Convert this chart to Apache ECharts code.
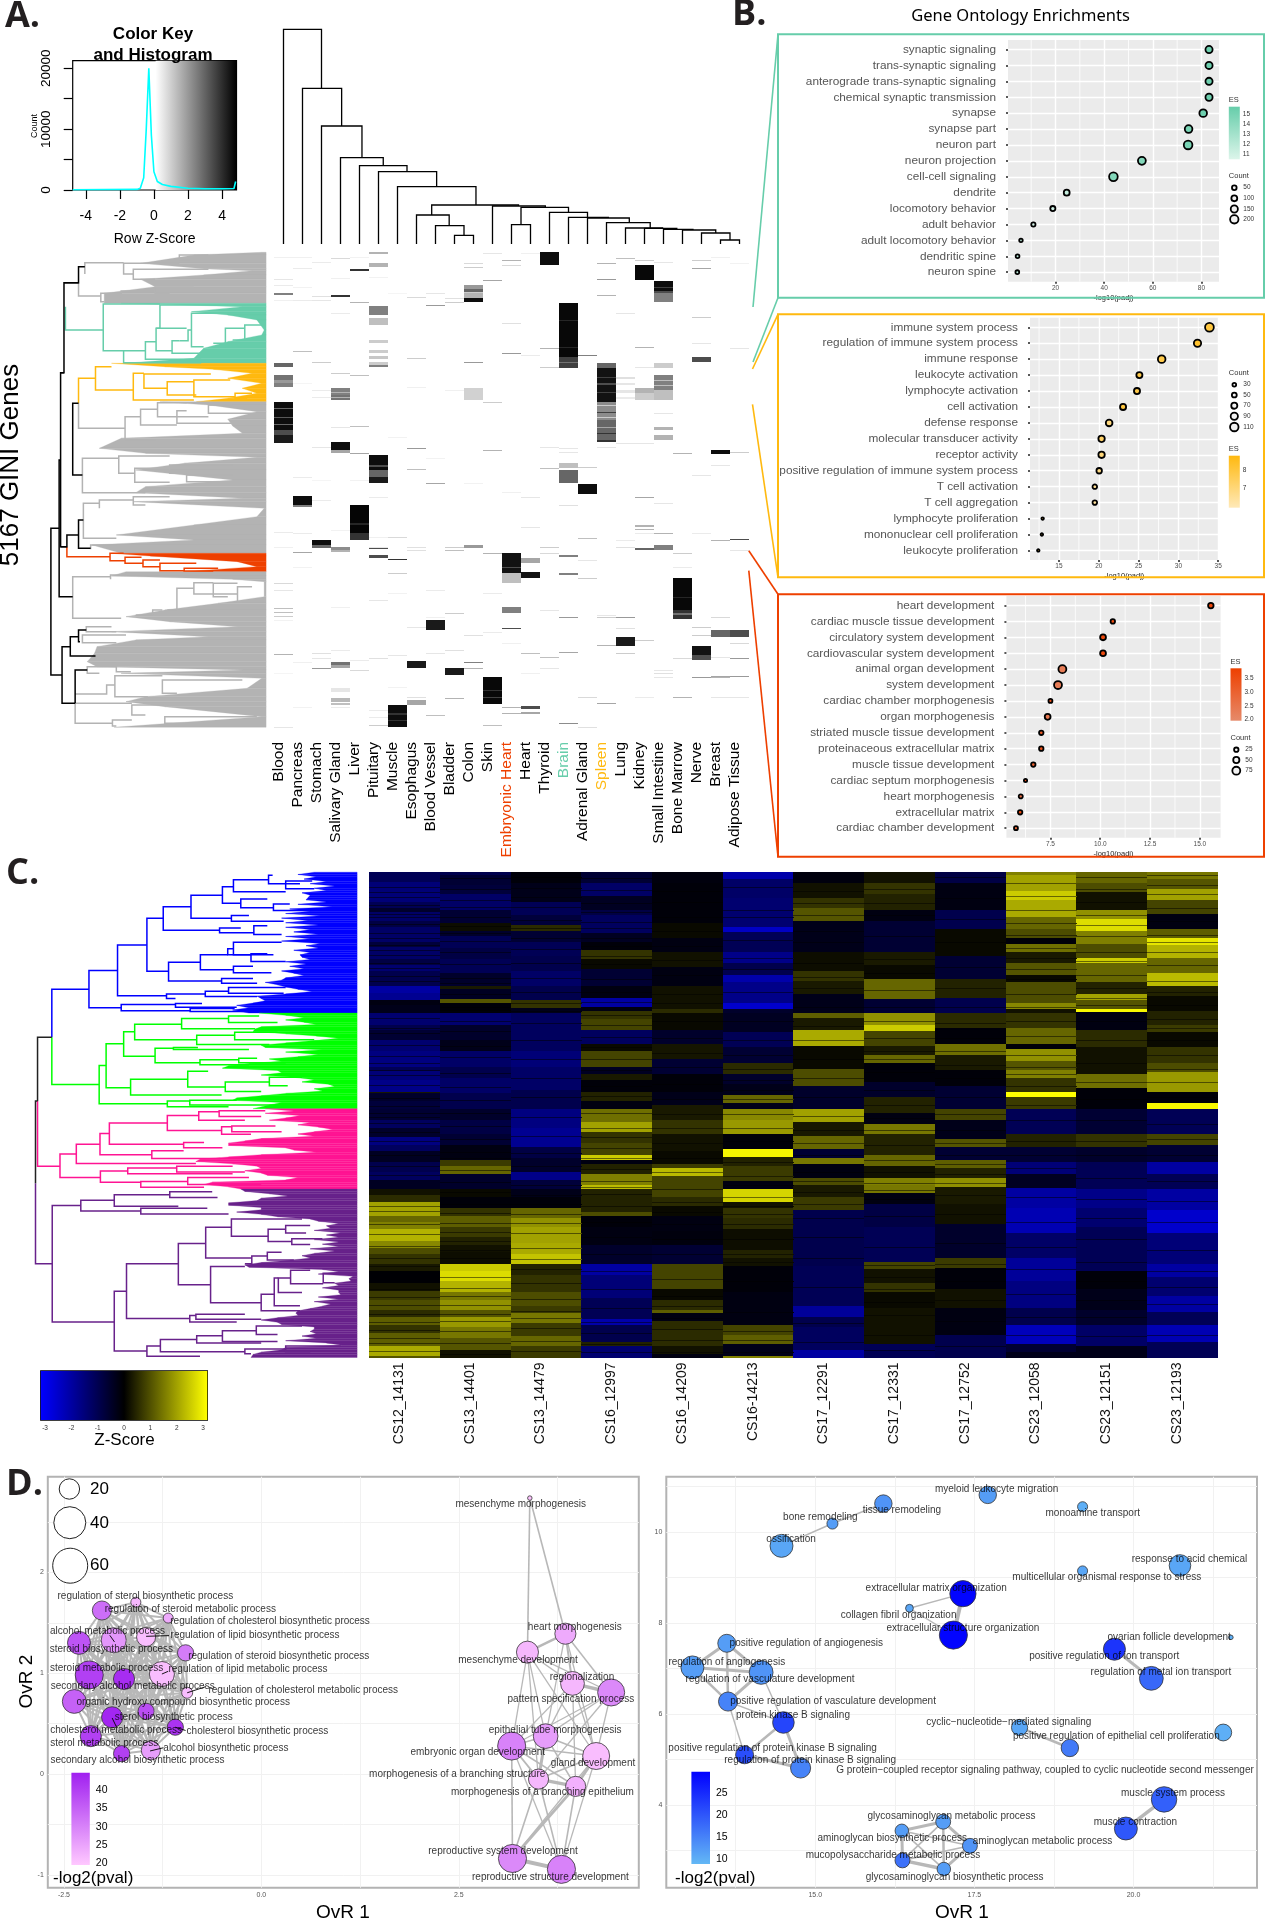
<!DOCTYPE html>
<html>
<head>
<meta charset="utf-8">
<title>GINI genes, GO enrichments, embryonic stages</title>
<script src="https://cdn.jsdelivr.net/npm/echarts@6/dist/echarts.min.js"></script>
<style>
  html, body { margin: 0; background: #fff; }
  #main { width: 1265px; height: 1920px; }
</style>
</head>
<body>
<div id="main"></div>
<script>
// ---------- panel A: histogram ----------
const histX = [-4.77, -1, -0.8, -0.6, -0.45, -0.3, -0.25, -0.15, 0, 0.2, 0.5, 1, 2, 3, 4, 4.7, 4.8];
const histY = [50, 100, 300, 2000, 10000, 20000, 20000, 9000, 3000, 1400, 900, 600, 300, 200, 200, 250, 1400];

// ---------- panel A: heat map ----------
const tissues = ['Blood', 'Pancreas', 'Stomach', 'Salivary Gland', 'Liver', 'Pituitary', 'Muscle', 'Esophagus', 'Blood Vessel', 'Bladder', 'Colon', 'Skin', 'Embryonic Heart', 'Heart', 'Thyroid', 'Brain', 'Adrenal Gland', 'Spleen', 'Lung', 'Kidney', 'Small Intestine', 'Bone Marrow', 'Nerve', 'Breast', 'Adipose Tissue'];
// [tissue, row from, row to, darkness]
const tissueBands = [
  [0,1205,1290,.95],[0,1290,1305,.7],[0,1305,1328,.9],[0,1088,1100,.6],[0,1125,1140,.55],[0,1140,1150,.4],[0,1150,1160,.5],[0,880,885,.5],
  [1,1487,1515,.95],[1,1515,1522,.5],
  [2,1620,1635,.95],[2,1635,1645,.6],
  [3,1327,1350,.95],[3,1350,1360,.35],[3,1165,1185,.5],[3,1185,1200,.55],[3,1640,1650,.45],[3,1650,1657,.3],[3,885,890,.8],[3,1985,1995,.55],[3,1995,2005,.35],[3,2065,2075,.1],[3,2095,2105,.28],[3,2108,2115,.25],
  [4,1515,1600,.98],[4,1600,1620,.8],[4,806,812,.8],
  [5,1365,1410,.95],[5,1410,1430,.6],[5,1430,1450,.9],[5,918,945,.5],[5,955,975,.25],[5,1020,1028,.2],[5,1050,1060,.2],[5,1068,1078,.22],[5,1085,1095,.2],[5,1095,1102,.5],[5,757,763,.3],[5,790,800,.3],[5,1643,1647,.7],[5,1665,1675,.7],
  [6,2115,2180,.95],[6,1678,1681,.8],
  [7,1983,2005,.9],[7,2100,2115,.35],
  [8,1860,1890,.9],
  [9,2003,2025,.9],
  [10,855,868,.4],[10,868,878,.6],[10,880,895,.3],[10,895,907,.95],[10,1165,1200,.18],[10,1635,1645,.4],
  [11,2030,2112,.97],
  [12,1658,1720,.93],[12,1720,1750,.25],[12,1820,1838,.5],[12,1885,1888,.7],
  [13,1715,1735,.93],[13,1675,1690,.35],[13,2118,2128,.7],[13,2135,2142,.35],
  [14,757,795,.95],
  [15,908,1070,.97],[15,1070,1105,.75],[15,1410,1450,.6],[15,1390,1405,.25],[15,1665,1672,.5],[15,1720,1725,.5],
  [16,1452,1483,.95],
  [17,1090,1105,.6],[17,1105,1205,.93],[17,1205,1260,.45],[17,1260,1320,.6],[17,1320,1326,.8],
  [18,1910,1937,.9],[18,1130,1138,.12],[18,1148,1156,.1],[18,1170,1180,.1],[18,1190,1198,.08],
  [19,795,840,.97],[19,1165,1180,.3],[19,1180,1200,.2],[19,1575,1582,.3],[19,1586,1590,.3],[19,1645,1650,.6],
  [20,843,880,.95],[20,880,905,.5],[20,1125,1170,.5],[20,1170,1200,.25],[20,1090,1105,.2],[20,1280,1290,.3],[20,1305,1320,.3],[20,1635,1650,.5],
  [21,1735,1830,.97],[21,1830,1858,.8],
  [22,1937,1965,.93],[22,1965,1980,.7],[22,1070,1085,.7],[22,950,955,.2],
  [23,1350,1362,.95],[23,1890,1910,.6],[23,2028,2032,.35],
  [24,1890,1910,.7],[24,1617,1620,.7],[24,2028,2032,.4]
];
// lighter lines inside the dark blocks
const tissueInner = [
  [0,1225,1228,.6],[0,1250,1253,.65],[0,1272,1276,.6],[4,1570,1574,.85],[5,1395,1400,.7],[6,2140,2145,.8],[6,2160,2163,.8],[11,2070,2074,.8],[11,2090,2095,.75],
  [12,1700,1705,.7],[15,960,963,.85],[15,1040,1044,.85],[15,1085,1088,.55],[17,1130,1133,.75],[17,1150,1154,.7],[17,1175,1178,.75],[17,1215,1218,.2],[17,1235,1240,.75],[17,1250,1253,.2],[17,1280,1284,.35],[17,1300,1303,.8],
  [20,860,864,.75],[20,872,878,.7],[20,1140,1144,.25],[20,1155,1158,.25],[21,1790,1793,.85],[21,1840,1844,.55],[10,875,880,.2],[3,1175,1178,.3],[3,1190,1194,.3]
];
// thin pale lines, [tissue, row, darkness]
const tissueFaint = [
  [0,770,.06],[0,837,.1],[0,855,.08],[0,900,.06],[0,1825,.25],[0,1836,.25],[0,1847,.2],[0,1962,.3],[0,1595,.08],[0,1750,.15],[0,1770,.1],[0,2180,.1],[0,1640,.06],[0,1860,.05],[0,2020,.04],
  [1,770,.06],[1,805,.08],[1,900,.08],[1,1052,.25],[1,1655,.35],[1,1430,.08],[1,2120,.05],[1,1600,.08],[1,1700,.05],[1,1985,.06],[1,862,.05],[1,1150,.04],
  [2,785,.08],[2,888,.12],[2,900,.1],[2,1085,.2],[2,1170,.08],[2,1190,.08],[2,1340,.1],[2,2005,.4],[2,1500,.08],[2,1960,.12],[2,1975,.1],[2,1440,.04],
  [3,775,.15],[3,835,.06],[3,940,.08],[3,1120,.2],[3,1280,.1],[3,1590,.05],[3,1820,.06],[3,1950,.08],[3,2120,.08],
  [4,905,.3],[4,1125,.25],[4,1278,.25],[4,1360,.35],[4,2010,.15],[4,1980,.08],[4,1440,.05],[4,770,.05],
  [5,1490,.08],[5,1640,.1],[5,1800,.1],[5,1610,.06],[5,1975,.12],[5,2175,.2],[5,830,.05],[5,2130,.08],[5,2150,.08],
  [6,1610,.15],[6,1720,.2],[6,1965,.1],[6,1310,.05],[6,1780,.05],[6,2060,.05],[6,880,.04],
  [7,890,.15],[7,1075,.2],[7,1345,.4],[7,1408,.25],[7,1650,.12],[7,1880,.1],[7,2090,.12],[7,1640,.12],[7,1160,.06],
  [8,915,.4],[8,880,.1],[8,1450,.35],[8,1770,.08],[8,2145,.25],[8,1960,.1],[8,1850,.06],[8,1375,.05],
  [9,905,.2],[9,1640,.2],[9,1650,.25],[9,1840,.2],[9,1950,.12],[9,2095,.3],[9,895,.12],[9,1170,.06],
  [10,790,.15],[10,1085,.4],[10,1985,.5],[10,2005,.3],[10,1905,.12],[10,800,.2],[10,1450,.05],
  [11,760,.1],[11,840,.35],[11,1205,.2],[11,1350,.3],[11,1660,.3],[11,1780,.08],[11,2175,.25],[11,1895,.08],
  [12,780,.3],[12,795,.15],[12,970,.12],[12,1060,.4],[12,1475,.06],[12,2120,.3],[12,2140,.3],[12,1930,.06],
  [13,760,.06],[13,1065,.08],[13,1490,.1],[13,1580,.1],[13,1960,.25],[13,2020,.06],[13,1680,.15],
  [14,1045,.3],[14,1100,.2],[14,1405,.25],[14,1640,.2],[14,1830,.1],[14,1970,.25],[14,1340,.1],[14,1660,.15],[14,2005,.1],
  [15,1720,.4],[15,1850,.4],[15,1955,.35],[15,2170,.45],[15,1515,.12],[15,1345,.1],[15,1355,.1],
  [16,1065,.5],[16,1400,.2],[16,1615,.25],[16,1735,.2],[16,2092,.15],[16,2180,.12],[16,1680,.1],
  [17,790,.3],[17,885,.3],[17,838,.4],[17,1850,.2],[17,1935,.3],[17,2110,.35],[17,1845,.1],[17,1340,.1],
  [18,775,.25],[18,940,.1],[18,1330,.1],[18,1850,.4],[18,1885,.12],[18,1960,.2],[18,1640,.12],[18,1620,.08],
  [19,1040,.3],[19,1100,.1],[19,1490,.35],[19,1920,.2],[19,1330,.1],[19,780,.2],[19,1600,.08],[19,2090,.08],
  [20,1240,.1],[20,1600,.3],[20,1510,.15],[20,2010,.1],[20,2030,.1],[20,2020,.12],[20,1510,.1],[20,785,.1],
  [21,1660,.2],[21,1975,.15],[21,2092,.3],[21,1360,.3],[21,1700,.08],
  [22,780,.2],[22,805,.35],[22,950,.2],[22,1030,.1],[22,1425,.1],[22,1880,.2],[22,1905,.2],[22,2030,.4],[22,1600,.08],
  [23,1395,.1],[23,1620,.3],[23,1850,.15],[23,1970,.1],[23,2090,.1],[23,2030,.3],[23,770,.06],
  [24,1045,.1],[24,1355,.2],[24,1650,.1],[24,1975,.4],[24,2090,.1],[24,1930,.15],[24,790,.05]
];

// column tree above the heat map: [left leaf, right leaf, left drop, right drop, height]
const columnTree = [
  [0,2,0,467,644],[1,3.06,0,354,467],[2,4.13,0,259,354],[3,5.25,0,235,259],[4,6.5,0,217,235],[5,8.06,0,172,217],[6,10.13,0,117,172],
  [7.8,12.37,87,114,117],[7,8.72,0,55,87],[8,9.5,0,26,55],[9,10,0,0,26],[11,13.78,0,110,114],[12.5,15,58,95,110],[12,13,0,0,58],
  [14,16,0,80,95],[15,17.1,0,78,80],[16,18.2,0,64,78],[17,19.3,0,48,64],[18,19.95,0,47,48],[19,20.7,0,44,47],[20,21.55,0,42,44],
  [21,22.75,0,33,42],[22,23.5,0,12,33],[23,24,0,0,12]
];

// row tree of panel A: [node, upper row, lower row, upper child, lower child]
const rowTreeBlack = [
  [105,1585,2025,122,128],[122,1380,1790,125,150],[125,1118,1640,132,138],[132,848,1118,162,125],[138,1605,1640,162,125],[162,800,848,175,132],
  [150,1210,1425,162,170],[162,1560,1645,172,187],[128,1940,2110,145,155],[145,1910,1968,162,197],[162,1890,1925,178,165],[155,2010,2110,180,155]
];
const rowTreeGrey = [
  [162,848,888,162,208],[175,788,822,255,175],[255,790,822,370,275],[275,808,838,430,320],[370,765,780,430,390],[208,880,905,250,215],[250,873,890,320,290],[320,862,880,400,350],
  [162,1210,1285,162,258],[258,1250,1320,290,320],[290,1228,1275,325,365],[325,1208,1250,385,430],[365,1232,1270,385,490],[430,1215,1240,480,530],
  [170,1375,1478,245,300],[245,1368,1420,350,278],[278,1405,1447,400,350],[350,1395,1420,480,385],[385,1425,1445,480,500],
  [172,1510,1615,205,240],[205,1500,1525,275,205],[275,1490,1515,350,300],[187,1635,1648,240,187],
  [150,1730,1855,228,250],[228,1725,1738,262,228],[365,1765,1830,400,345],[400,1748,1782,440,490],[440,1750,1790,490,470],[490,1760,1805,520,500],[315,1830,1845,335,280],
  [178,1880,1895,230,240],[170,1905,1928,260,240],[195,1967,1978,260,215],[180,2000,2020,240,205],[240,1990,2015,280,270],
  [220,2055,2082,237,155],[237,2027,2090,335,305],[335,2040,2080,500,365],[155,2110,2170,272,232],[232,2160,2178,272,240],[272,2115,2145,340,300],[340,2150,2170,530,420]
];
const rowTreeTeal = [
  [135,920,990,135,213],[213,912,1052,330,255],[255,1052,1088,300,415],[300,1025,1078,322,415],[322,985,1052,385,355],[330,915,985,470,322],
  [355,1022,1060,370,415],[388,990,1022,395,370],[395,940,1040,470,420],[465,985,1030,505,440],[505,975,1020,545,480]
];
const rowTreeGold = [
  [162,1135,1210,197,162],[197,1100,1170,230,275],[275,1120,1200,297,400],[297,1122,1165,435,345],[345,1145,1185,400,405],[400,1140,1190,475,485],[485,1180,1195,520,510]
];
const rowTreeRed = [
  [138,1640,1670,138,227],[227,1660,1682,255,258],[258,1672,1690,292,295],[295,1680,1700,330,330],[330,1690,1712,405,380],[380,1705,1713,450,440]
];
// leaf-side edge of the filled block, [row, reach]
const rowFillGrey1 = [[757,540],[765,400],[790,290],[806,420],[812,520],[825,420],[838,290],[860,320],[880,215],[910,215]];
const rowFillTeal = [[910,250],[920,500],[935,395],[945,470],[960,530],[990,545],[1005,540],[1025,470],[1045,420],[1075,400],[1090,255]];
const rowFillGold = [[1090,230],[1100,340],[1108,440],[1120,520],[1135,470],[1150,540],[1165,500],[1180,530],[1195,470],[1205,405]];
const rowFillGrey2 = [[1205,330],[1215,430],[1235,530],[1258,470],[1278,480],[1300,500],[1315,250],[1345,205],[1360,300],[1372,530],[1390,380],[1410,280],[1440,480],[1460,300],[1478,280],[1495,500],[1505,275],[1525,545],[1550,530],[1575,400],[1605,240],[1620,400],[1635,190],[1660,250]];
const rowFillRed = [[1660,230],[1668,310],[1685,490],[1700,530],[1715,380]];
const rowFillGrey3 = [[1715,260],[1728,230],[1738,480],[1745,545],[1790,545],[1810,450],[1830,340],[1850,260],[1865,350],[1880,490],[1895,230],[1910,430],[1920,280],[1940,200],[1960,195],[1985,180],[2000,200],[2010,500],[2020,250],[2035,540],[2065,510],[2090,300],[2105,260],[2120,340],[2150,540],[2182,235]];

// ---------- panel B: gene ontology ----------
const goTealTerms = ['synaptic signaling', 'trans-synaptic signaling', 'anterograde trans-synaptic signaling', 'chemical synaptic transmission', 'synapse', 'synapse part', 'neuron part', 'neuron projection', 'cell-cell signaling', 'dendrite', 'locomotory behavior', 'adult behavior', 'adult locomotory behavior', 'dendritic spine', 'neuron spine'];
const goTealX = [83.1, 83.1, 83.1, 83.1, 80.7, 74.7, 74.5, 55.5, 43.8, 24.6, 18.9, 10.9, 5.8, 4.4, 4.3];
const goTealCount = [150, 150, 150, 150, 170, 170, 210, 180, 210, 100, 70, 35, 5, 15, 15];
const goTealES = [15.5, 15.5, 15.5, 15.5, 15.5, 15, 15, 14.5, 14.5, 11.5, 11, 10.8, 12, 12, 12];

const goGoldTerms = ['immune system process', 'regulation of immune system process', 'immune response', 'leukocyte activation', 'lymphocyte activation', 'cell activation', 'defense response', 'molecular transducer activity', 'receptor activity', 'positive regulation of immune system process', 'T cell activation', 'T cell aggregation', 'lymphocyte proliferation', 'mononuclear cell proliferation', 'leukocyte proliferation'];
const goGoldX = [33.9, 32.4, 27.9, 25.1, 24.8, 23.05, 21.3, 20.35, 20.35, 20.05, 19.5, 19.5, 12.95, 12.85, 12.4];
const goGoldCount = [115, 90, 95, 70, 70, 70, 80, 75, 75, 60, 45, 45, 10, 10, 10];
const goGoldES = [8, 8.3, 7.8, 7.8, 7.8, 8, 6.9, 7.3, 7, 6.8, 6.5, 6.4, 8, 8, 8];

const goRedTerms = ['heart development', 'cardiac muscle tissue development', 'circulatory system development', 'cardiovascular system development', 'animal organ development', 'system development', 'cardiac chamber morphogenesis', 'organ morphogenesis', 'striated muscle tissue development', 'proteinaceous extracellular matrix', 'muscle tissue development', 'cardiac septum morphogenesis', 'heart morphogenesis', 'extracellular matrix', 'cardiac chamber development'];
const goRedX = [15.55, 10.63, 10.14, 10.14, 8.1, 7.88, 7.5, 7.36, 7.04, 7.04, 6.64, 6.25, 6.01, 5.98, 5.77];
const goRedCount = [40, 25, 45, 45, 75, 75, 18, 45, 25, 25, 25, 8, 20, 25, 18];
const goRedES = [3.7, 3.5, 3.6, 3.6, 2.3, 2.3, 3.4, 2.4, 3.2, 3.4, 3, 3.5, 2.6, 3.6, 2.8];

// ---------- panel C: stage heat map, runs of [row end, z-score] ----------
const stages = ['CS12_14131', 'CS13_14401', 'CS13_14479', 'CS16_12997', 'CS16_14209', 'CS16-14213', 'CS17_12291', 'CS17_12331', 'CS17_12752', 'CS23_12058', 'CS23_12151', 'CS23_12193'];
const stageRuns = [
  [[58,-1],[110,-1.4],[125,-1],[135,-.5],[160,-1.2],[175,-.8],[215,-1.2],[228,-.7],[260,-1.2],[275,-.8],[290,-1.3],[330,-.9],[348,-1.9],[366,-1.7],[380,-.2],[400,-.3],[430,-1.3],[445,-.9],[470,-.6],[500,-1.3],[540,-1.5],[550,-1],[575,-1.4],[605,-1.6],[608,.3],[630,-.5],[650,-.7],[680,-.6],[700,-1.1],[725,-.5],[745,-1.5],[760,-1.1],[790,-.4],[815,-.9],[835,-1.1],[860,-.4],[875,.2],[895,.5],[930,1.9],[945,1.2],[965,1.5],[995,2.1],[1015,1.6],[1030,.9],[1055,.6],[1075,.3],[1105,-.05],[1125,.2],[1150,.7],[1175,.9],[1195,.5],[1215,1.1],[1235,.6],[1270,1.1],[1295,2],[1300,1]],
  [[40,-.9],[65,-.6],[90,-.7],[130,-1.2],[165,-.6],[185,.15],[200,-.5],[230,-1],[260,-.8],[295,-1],[330,-.5],[338,.3],[362,-.4],[373,1],[400,-.1],[430,-1.3],[470,-.5],[500,-.3],[540,-1.2],[570,-.9],[610,-1.2],[650,-.9],[680,-.5],[715,-.8],[745,-.6],[785,-.2],[800,.7],[820,1.2],[860,-.5],[880,.1],[910,-.1],[930,.6],[960,1.1],[985,.7],[1005,.4],[1025,.2],[1055,.15],[1075,2.4],[1100,2.6],[1130,2.1],[1150,1.4],[1175,1.7],[1195,1],[1220,1.8],[1250,1.4],[1280,1],[1300,.2]],
  [[60,-.1],[110,-.3],[145,-1],[170,-.7],[185,.5],[215,-.6],[250,-1],[290,-.9],[330,-1.2],[365,-.9],[388,.6],[400,-.3],[450,-1.1],[500,-1.1],[540,-1.4],[600,-1.2],[650,-.9],[700,-1.5],[750,-1.7],[780,-.8],[815,-.5],[835,-1.6],[860,-.7],[880,-.3],[910,-.1],[935,1.2],[960,1.7],[1000,1.9],[1030,2],[1055,2.3],[1085,.4],[1130,.6],[1165,.9],[1185,.7],[1210,1.4],[1245,.7],[1270,1.2],[1300,.7]],
  [[60,-.6],[95,-1.2],[130,-.4],[145,-.8],[190,-1.1],[215,-.4],[235,-.1],[260,.6],[285,.1],[330,-.6],[360,-.2],[385,-1.9],[395,-.2],[415,.6],[445,.8],[480,-1.1],[500,.1],[540,.8],[560,-.4],[575,.3],[605,-.1],[630,.4],[650,-.2],[685,1.3],[712,1.9],[740,.6],[770,.8],[785,2.4],[795,-.2],[820,.4],[850,1.5],[860,2.2],[885,.4],[920,.4],[930,.9],[960,-.1],[1005,-.2],[1055,-.5],[1085,-1.9],[1145,-1.4],[1200,-1],[1215,-2],[1260,-.9],[1270,.4],[1300,-1.3]],
  [[60,-.15],[130,-.1],[165,-.1],[205,.1],[240,-.2],[280,.2],[330,-.2],[390,.2],[400,.5],[445,.1],[480,-.5],[520,.25],[560,-.6],[605,-.1],[640,-.3],[680,.3],[715,.6],[760,.2],[795,.1],[805,.7],[825,2.2],[835,.8],[880,.8],[905,.5],[930,.1],[970,-.2],[1005,-.15],[1055,-.6],[1120,.8],[1150,.1],[1175,.5],[1185,1.1],[1205,-.2],[1270,.5],[1290,.2],[1300,-.2]],
  [[50,-2],[100,-1.2],[175,-1.3],[188,-2.3],[240,-1],[270,-1.6],[300,-.9],[320,-2],[375,-1.6],[390,-2.4],[400,-.5],[450,-.4],[490,-1],[530,-.6],[560,.5],[585,-.5],[615,-.3],[635,1.2],[650,-.3],[680,1.6],[715,1.8],[755,-.1],[775,2.9],[800,.4],[840,.7],[860,-.2],[895,2.5],[910,.2],[935,.6],[965,.5],[1020,.15],[1040,.4],[1060,.2],[1130,-.1],[1215,-.2],[1240,.8],[1265,1.1],[1295,-.3],[1300,1.5]],
  [[60,-.15],[100,.2],[125,.6],[160,1],[240,-.3],[290,.15],[315,.6],[350,.3],[400,-.3],[412,1.1],[445,.3],[487,2],[545,.1],[590,.9],[650,-.5],[685,1.9],[720,.3],[755,1.2],[780,-.6],[795,1.4],[830,-.2],[850,.9],[880,.3],[915,.7],[950,-.9],[1000,-.9],[1060,-.9],[1165,-1],[1195,-1.8],[1220,-.9],[1280,-1.1],[1300,-1.9]],
  [[60,.2],[90,.6],[130,.4],[160,-.2],[240,-.6],[275,.3],[312,.1],[362,1.2],[400,-.6],[430,1.7],[447,2.4],[485,.8],[510,.3],[530,1.2],[580,-.1],[620,-.5],[660,.4],[690,-.2],[715,1.4],[770,.4],[800,1.2],[830,.2],[850,1.5],[870,1.4],[900,-.2],[960,-.8],[1050,-1],[1070,.8],[1105,.2],[1130,.6],[1170,.1],[1205,.2],[1265,.2],[1300,-1]],
  [[60,-.8],[130,-.2],[180,-.9],[250,.1],[310,-.6],[360,.4],[400,-.9],[440,.5],[480,-.1],[510,1.3],[550,.3],[590,-.1],[650,-.6],[680,.8],[730,-.3],[750,1],[785,-.6],[805,1.1],[830,.4],[855,1.7],[900,.3],[950,.2],[1040,-.5],[1065,.7],[1120,-.1],[1170,.2],[1240,-.2],[1300,-.9]],
  [[40,1.5],[80,1.9],[105,2.4],[150,2],[180,1.2],[205,.9],[220,-.1],[240,1.3],[270,.3],[300,1],[320,.1],[375,.9],[390,1.6],[400,.2],[440,.6],[480,1.2],[495,-.1],[525,1.7],[550,1],[570,1.5],[605,.6],[620,3],[650,.7],[715,-1],[750,.4],[790,-.6],[820,-1.4],[858,-.4],[910,-1.9],[975,-2.1],[1040,-1.2],[1100,-1.8],[1170,-1.5],[1215,-.9],[1265,-2.2],[1285,-.6],[1300,-.3]],
  [[60,1.2],[85,.9],[130,.2],[155,1.7],[185,2.6],[220,1.5],[255,.9],[270,2.4],[320,1.2],[350,.4],[365,1.9],[390,1],[398,2.9],[445,-.2],[490,.5],[560,.2],[595,1.3],[650,-.1],[715,-.6],[750,.6],[790,-.5],[860,-1],[910,-1.6],[960,-1.3],[1020,-1],[1075,-1],[1120,-.1],[1175,-.3],[1215,-.5],[1270,-1.2],[1300,-.3]],
  [[50,1.4],[75,1],[105,1.9],[140,.8],[180,-.2],[205,1.1],[222,2.7],[255,2.1],[295,1.2],[330,2.2],[355,.4],[395,.1],[430,.4],[450,.7],[490,.1],[530,.6],[555,.9],[605,1.8],[635,-.1],[650,2.9],[715,-1],[745,.8],[790,-.6],[820,-1.9],[860,-1],[915,-1.9],[975,-2.4],[1055,-1.4],[1090,-1.9],[1140,-1.3],[1180,-1.9],[1215,-1],[1260,-2.1],[1300,-1]]
];
// thin dimmer rows seen inside the runs, one list per stage
const stageThinRows = [
  [70,84,96,118,142,150,168,190,205,222,236,248,268,282,302,316,412,438,452,484,512,530,548,562,588,622,642,660,672,688,712,735,772,800,822,905,918,952,978,1008,1040,1062,1120,1142,1162,1186,1208,1228,1248,1262,1282],
  [48,76,104,122,148,172,192,212,240,272,308,322,350,384,392,420,448,486,515,556,592,628,662,695,728,762,778,810,842,868,900,922,948,972,996,1018,1040,1090,1118,1140,1162,1186,1205,1232,1262,1290],
  [44,72,98,124,156,178,204,232,268,308,345,375,395,425,470,520,570,620,672,722,765,800,850,875,900,925,948,975,1015,1042,1068,1105,1148,1178,1198,1222,1258,1284],
  [46,78,112,136,162,178,205,226,250,272,310,345,372,405,430,462,490,520,550,590,618,662,700,725,752,778,808,838,855,872,905,945,985,1030,1075,1120,1170,1208,1235,1265,1285],
  [80,110,150,185,225,262,300,350,375,420,465,505,540,585,625,665,700,740,780,815,860,895,920,950,990,1030,1095,1140,1165,1198,1225,1255,1285],
  [70,130,150,210,255,285,345,420,470,510,545,575,600,625,665,700,735,790,825,850,880,905,925,950,990,1030,1050,1100,1180,1230,1255,1285],
  [80,112,145,185,215,270,305,335,385,435,470,520,570,620,670,705,740,770,815,840,868,900,935,985,1040,1115,1210,1260],
  [75,112,145,200,260,295,340,385,420,465,500,520,555,600,640,675,705,745,785,815,845,862,885,930,1010,1058,1090,1120,1155,1190,1240,1280],
  [45,100,155,215,280,335,385,425,465,500,535,570,620,665,705,740,770,795,820,845,875,925,1000,1055,1100,1150,1205,1270],
  [60,95,130,165,195,230,255,285,310,350,385,420,460,510,540,560,590,640,680,735,770,805,880,945,1010,1070,1135,1195,1240],
  [45,75,110,145,170,200,240,265,300,335,360,380,420,470,530,580,625,680,735,770,830,885,935,990,1050,1100,1150,1195,1245],
  [40,65,90,125,160,195,215,240,275,315,345,380,415,440,470,510,545,580,620,690,730,770,840,890,945,1020,1075,1115,1160,1240]
];

// row tree of panel C: [node, upper row, lower row, upper child, lower child]
const stageTreeBlack = [[92,463,630,127,92],[87,630,845,92,87]];
const stageTreeBlue = [
  [127,338,463,218,127],[218,289,386,288,297],[288,222,355,360,408],[360,152,291,400,413],[400,122,184,468,538],[468,92,152,545,567],[545,70,113,572,590],[572,52,83,658,700],[658,40,62,668,735],[700,55,75,765,770],
  [590,102,125,655,670],[670,115,132,710,760],[567,145,160,610,695],[538,178,190,590,622],[622,172,195,655,690],[413,267,316,491,543],[491,248,287,558,572],[558,232,248,572,615],[572,215,248,690,670],[615,245,265,655,700],[572,278,295,620,665],
  [543,310,322,620,630],[408,350,362,503,430],[503,343,357,560,630],[560,333,348,700,695],[297,378,394,430,466],[430,375,385,495,580],[466,388,396,575,610]
];
const stageTreeGreen = [
  [127,463,587,127,243],[243,537,637,260,410],[260,480,595,303,320],[303,449,513,330,380],[330,429,470,445,482],[445,414,441,560,625],[560,408,425,635,680],[482,458,482,575,660],[575,450,470,680,770],
  [380,492,530,425,490],[425,490,495,485,610],[490,522,535,585,610],[585,518,530,630,700],[320,573,614,460,543],[460,552,593,510,552],[552,580,605,660,640],[660,568,590,740,705],[410,630,645,465,560],[465,628,640,580,690]
];
const stageTreePink = [
  [92,630,800,92,147],[147,768,830,187,246],[187,743,793,245,480],[245,715,770,268,372],[268,687,743,410,450],[410,668,707,487,543],[487,658,680,537,600],[537,655,670,650,640],[543,697,717,568,615],
  [568,695,710,675,690],[450,738,752,500,545],[372,760,780,450,540],[246,813,842,313,345],[313,805,820,433,570],[345,840,855,460,500],[433,800,815,570,600],[460,830,848,610,640]
];
const stageTreePurple = [
  [87,845,1055,87,128],[128,903,1207,198,280],[198,889,917,280,345],[280,875,905,416,437],[416,867,882,520,533],[345,910,925,508,560],[280,1127,1283,310,360],[310,1055,1198,437,465],[437,1002,1110,504,516],[504,960,1040,567,617],[567,938,983,740,657],
  [657,965,997,700,715],[700,955,975,760,750],[715,990,1005,790,760],[617,1035,1055,655,600],[655,1025,1045,690,720],[516,1062,1157,600,640],[640,1135,1178,672,735],[672,1092,1165,682,735],[682,1092,1130,712,740],[712,1072,1107,760,792],[792,1080,1105,855,820],
  [465,1190,1207,480,580],[480,1187,1200,600,640],[360,1270,1297,393,490],[393,1253,1285,482,600],[482,1243,1262,545,640],[545,1230,1258,628,680],[628,1218,1240,740,680],[600,1278,1290,700,615],[700,1270,1285,835,760]
];
const stageFillBlue = [[32,770],[38,730],[44,775],[50,745],[56,800],[62,760],[68,820],[74,770],[80,800],[86,740],[92,760],[98,755],[104,750],[110,800],[116,730],[122,815],[128,710],[134,760],[140,700],[146,785],[152,690],[158,755],[164,700],[170,780],[176,700],[182,760],[188,720],[194,780],[200,700],[206,760],[212,690],[218,785],[224,750],[230,780],[236,720],[242,760],[248,735],[254,740],[260,760],[266,700],[272,750],[278,710],[284,745],[290,690],[296,720],[302,745],[308,700],[314,690],[320,650],[326,680],[332,700],[338,730],[344,765],[350,700],[356,630],[362,640],[368,650],[374,620],[380,580],[386,610],[392,570],[400,610]];
const stageFillGreen = [[400,635],[406,700],[412,745],[418,700],[424,745],[430,775],[436,640],[442,625],[448,620],[454,700],[460,775],[466,830],[472,770],[478,700],[484,640],[490,650],[496,790],[502,700],[508,780],[514,730],[520,660],[526,690],[532,610],[538,560],[544,545],[550,680],[556,690],[562,640],[568,720],[574,770],[580,740],[586,805],[592,820],[598,770],[604,790],[610,700],[616,640],[622,580],[628,570],[634,690],[640,660],[650,620]];
const stageFillPink = [[650,650],[656,720],[662,650],[668,735],[674,700],[680,660],[686,760],[692,730],[698,780],[704,815],[710,770],[716,730],[722,770],[728,640],[734,600],[740,560],[746,560],[752,700],[758,720],[764,775],[770,640],[776,560],[782,490],[788,480],[794,570],[800,630],[806,640],[812,600],[818,640],[824,655],[830,730],[836,700],[842,520],[848,500],[854,560],[860,590]];
const stageFillPurple = [[860,590],[866,600],[872,660],[878,705],[884,640],[890,630],[896,560],[902,560],[908,640],[914,640],[920,580],[926,640],[932,680],[938,760],[944,780],[950,830],[956,800],[962,810],[968,770],[974,835],[980,800],[986,830],[992,770],[998,830],[1004,790],[1010,830],[1016,760],[1022,820],[1028,770],[1034,740],[1040,760],[1046,710],[1052,640],[1058,600],[1064,610],[1070,790],[1076,830],[1082,780],[1088,865],[1094,855],[1100,860],[1106,820],[1112,830],[1118,790],[1124,830],[1130,830],[1136,835],[1142,780],[1148,830],[1154,770],[1160,810],[1166,790],[1172,760],[1178,730],[1184,725],[1190,730],[1196,680],[1202,640],[1208,680],[1214,690],[1220,770],[1226,770],[1232,760],[1238,775],[1244,740],[1250,775],[1256,700],[1262,800],[1268,838],[1274,700],[1280,690],[1286,640],[1292,620],[1300,615]];

// ---------- panel D: enrichment maps ----------
const mapLeftTerms = ['regulation of sterol biosynthetic process', 'regulation of steroid metabolic process', 'regulation of cholesterol biosynthetic process', 'alcohol metabolic process', 'regulation of lipid biosynthetic process', 'steroid biosynthetic process', 'regulation of steroid biosynthetic process', 'steroid metabolic process', 'regulation of lipid metabolic process', 'secondary alcohol metabolic process', 'regulation of cholesterol metabolic process', 'organic hydroxy compound biosynthetic process', 'sterol biosynthetic process', 'cholesterol metabolic process', 'cholesterol biosynthetic process', 'sterol metabolic process', 'alcohol biosynthetic process', 'secondary alcohol biosynthetic process',
  'mesenchyme morphogenesis', 'heart morphogenesis', 'mesenchyme development', 'regionalization', 'pattern specification process', 'epithelial tube morphogenesis', 'embryonic organ development', 'gland development', 'morphogenesis of a branching structure', 'morphogenesis of a branching epithelium', 'reproductive system development', 'reproductive structure development'];
const mapLeftX = [-1.59, -2.02, -1.18, -2.31, -1.46, -1.87, -.96, -2.18, -1.26, -1.74, -.94, -2.37, -1.46, -2.16, -1.09, -1.89, -1.4, -1.77, 3.4, 3.85, 3.37, 3.94, 4.43, 3.6, 3.17, 4.24, 3.51, 3.98, 3.18, 3.8];
const mapLeftY = [1.705, 1.623, 1.548, 1.302, 1.361, 1.328, 1.203, .984, .993, .944, .807, .721, .623, .377, .466, .564, .236, .203, 2.738, 1.393, 1.21, .9, .81, .377, .279, .18, -.049, -.121, -.836, -.944];
const mapLeftCount = [5, 18, 5, 26, 18, 31, 13, 39, 31, 22, 6, 28, 13, 22, 13, 22, 18, 13, 1, 22, 24, 28, 36, 30, 39, 36, 20, 20, 39, 39];
const mapLeftVal = [22, 33, 24, 37, 21, 27, 31, 40, 21, 43, 21, 35, 38, 40, 42, 44, 26, 40, 20, 24, 22, 22, 29, 26, 30, 21, 22, 23, 29, 30];
// edges that are not simply the fully linked sterol group: [from, to, weight]
const mapLeftEdges = [[18,20,1.6],[18,19,1.6],[20,19,2.5],[20,21,1.3],[20,22,1.3],[19,21,2],[19,22,1.5],[21,22,3.5],[20,23,1.3],[20,24,1.3],[20,25,1.3],[20,26,1.3],[19,23,1.3],[19,25,1.3],[21,23,1.3],[21,24,1.3],[21,25,1.3],[21,27,1.3],[22,23,1.3],[22,24,1.3],[22,25,1.3],[22,26,1.3],[23,24,1.6],[23,25,1.6],[23,26,3],[23,27,1.6],[24,25,1.6],[24,26,1.8],[24,27,1.6],[24,28,1.6],[24,29,1.3],[25,26,1.6],[25,27,3],[26,27,3.5],[26,28,1.6],[26,29,1.6],[27,28,2.8],[27,29,1.6],[25,28,1.3],[25,29,1.3],[28,29,4]];

const mapRightTerms = ['tissue remodeling', 'bone remodeling', 'ossification', 'myeloid leukocyte migration', 'monoamine transport', 'response to acid chemical', 'multicellular organismal response to stress', 'extracellular matrix organization', 'collagen fibril organization', 'extracellular structure organization', 'ovarian follicle development', 'positive regulation of ion transport', 'regulation of metal ion transport', 'positive regulation of angiogenesis', 'regulation of angiogenesis', 'regulation of vasculature development', 'positive regulation of vasculature development', 'protein kinase B signaling', 'cyclic\u2212nucleotide\u2212mediated signaling', 'positive regulation of epithelial cell proliferation', 'G protein\u2212coupled receptor signaling pathway, coupled to cyclic nucleotide second messenger', 'positive regulation of protein kinase B signaling', 'regulation of protein kinase B signaling', 'muscle system process', 'muscle contraction', 'glycosaminoglycan metabolic process', 'aminoglycan biosynthetic process', 'aminoglycan metabolic process', 'mucopolysaccharide metabolic process', 'glycosaminoglycan biosynthetic process'];
const mapRightX = [16.07, 15.27, 14.47, 17.71, 19.2, 20.73, 19.2, 17.32, 16.48, 17.17, 21.53, 19.7, 20.28, 13.61, 13.07, 14.15, 13.63, 14.5, 18.21, 19, 21.41, 13.89, 14.77, 20.48, 19.88, 17.01, 16.36, 17.43, 16.37, 17.02];
const mapRightY = [10.62, 10.18, 9.69, 10.81, 10.55, 9.26, 9.14, 8.64, 8.32, 7.73, 7.68, 7.42, 6.78, 7.55, 7.02, 6.91, 6.27, 5.81, 5.7, 5.25, 5.59, 5.1, 4.81, 4.12, 3.48, 3.63, 3.43, 3.1, 2.78, 2.59];
const mapRightCount = [15, 6, 26, 15, 5, 23, 5, 34, 3, 39, 1, 24, 28, 16, 26, 28, 18, 23, 13, 15, 14, 16, 20, 32, 26, 11, 9, 11, 11, 9];
const mapRightVal = [13, 12, 11, 12, 10, 11, 11, 29.5, 11, 29.5, 10, 24, 18, 12, 12, 13, 15, 22, 11, 16, 10, 21, 15, 19, 20, 12, 12, 13, 17, 12];
const mapRightEdges = [[0,1,1.6],[1,2,1.6],[7,8,1.4],[7,9,4],[8,9,1.4],[11,12,3],[13,14,3],[13,15,3],[13,16,2.5],[14,15,3],[14,16,2.5],[15,16,3],[15,17,1.4],[16,17,1.4],[16,21,1.4],[17,21,2.5],[17,22,3],[21,22,3],[18,19,2.5],[23,24,3.5],[25,26,3],[25,27,3],[25,28,1.6],[25,29,2.5],[26,27,1.6],[26,28,3],[26,29,1.6],[27,28,1.6],[27,29,3],[28,29,3.5]];

// ---------- layout, helpers ----------
const ink = '#000', fontName = 'Liberation Sans, Arial, sans-serif';
const mapLeftLabelAt = [[-1.47,1.764],[-.9,1.639],[.11,1.515],[-1.95,1.416],[-.08,1.374],[-1.9,1.236],[.22,1.167],[-1.96,1.049],[-.17,1.039],[-1.63,.875],[.53,.83],[-.99,.715],[-1.11,.561],[-1.84,.433],[-.05,.426],[-1.99,.305],[-.45,.259],[-1.57,.134],[3.285,2.672],[3.97,1.452],[3.25,1.134],[4.06,.964],[3.92,.744],[3.72,.436],[2.74,.22],[4.2,.108],[2.48,.003],[3.56,-.184],[3.06,-.767],[3.66,-1.02]];
const mapRightLabelAt = [[16.36,10.48],[15.08,10.31],[14.62,9.83],[17.85,10.94],[19.36,10.4],[20.88,9.39],[19.58,9],[16.9,8.77],[16.31,8.16],[17.32,7.87],[20.56,7.69],[19.54,7.26],[20.43,6.91],[14.86,7.54],[13.61,7.13],[14.29,6.76],[15.28,6.27],[14.65,5.96],[18.04,5.82],[19.73,5.5],[18.61,4.75],[14.33,5.24],[14.92,4.97],[20.62,4.25],[20.03,3.62],[17.14,3.75],[16.21,3.27],[18.57,3.21],[16.22,2.89],[17.19,2.42]];
const mapLeftLeaders = [[-1.46,1.367,-1.17,1.374],[-1.92,1.377,-1.86,1.311],[-1.89,.557,-1.84,.475],[-1.41,.23,-1.24,.262],[-1.26,.993,-1.18,1.02],[-.94,.807,-.7,.869],[-1.09,.466,-.96,.433]];

const grids = [], xAxes = [], yAxes = [], series = [], graphic = [];
const noLine = { show: false, onZero: false };

function addGrid(rect, x, y) {
  grids.push(rect);
  const i = grids.length - 1;
  xAxes.push({ gridIndex: i, ...x });
  yAxes.push({ gridIndex: i, ...y });
  return i;
}
const hidden = (min, max, extra) => ({ type: 'value', min, max, show: false, ...extra });

function mix(a, b, t) {
  t = Math.max(0, Math.min(1, t));
  const p = (h, i) => parseInt(h.substr(i, 2), 16);
  const c = [1, 3, 5].map(i => Math.round(p(a, i) + (p(b, i) - p(a, i)) * t));
  return `rgb(${c[0]},${c[1]},${c[2]})`;
}
function addText(text, x, y, font, opts) {
  graphic.push({
    type: 'text', x, y, rotation: (opts && opts.rotation) || 0, z: 100, silent: true,
    style: { text, font: font + ' ' + fontName, fill: (opts && opts.fill) || ink, align: (opts && opts.align) || 'center', verticalAlign: 'middle' }
  });
}
function customOn(g, data, renderItem, z) {
  series.push({ type: 'custom', xAxisIndex: g, yAxisIndex: g, data, renderItem, silent: true, z: z || 2, encode: { x: 0, y: 1 } });
}
// horizontal tree: node, upper row, lower row, upper child, lower child
function rowTree(g, data, color, width) {
  customOn(g, data, (p, api) => {
    const [n, a, b, ca, cb] = [0, 1, 2, 3, 4].map(i => api.value(i));
    return { type: 'polyline', shape: { points: [[ca, a], [n, a], [n, b], [cb, b]].map(d => api.coord(d)) }, style: { stroke: color, fill: null, lineWidth: width || 1.5 } };
  }, 4);
}
// leaf-side filled block between consecutive profile rows
function rowFill(g, profile, color, edge) {
  const segs = profile.slice(1).map((d, i) => [profile[i][0], profile[i][1], d[0], d[1]]);
  customOn(g, segs, (p, api) => {
    const [y0, x0, y1, x1] = [0, 1, 2, 3].map(i => api.value(i));
    return { type: 'polygon', shape: { points: [[x0, y0], [edge, y0], [edge, y1], [x1, y1]].map(d => api.coord(d)) }, style: { fill: color, stroke: color, lineWidth: 0.3 } };
  }, 3);
}
function bands(g, data, colorOf) {
  customOn(g, data, (p, api) => {
    const c = api.value(0), a = api.coord([c, api.value(1)]), b = api.coord([c, api.value(2)]), w = api.size([1, 0])[0];
    const top = Math.round(a[1]), bot = Math.round(b[1]);
    return { type: 'rect', shape: { x: Math.round(a[0] - w / 2), y: top, width: Math.ceil(w), height: Math.max(1, bot - top) }, style: { fill: colorOf(api.value(3)) } };
  });
}
function colorBar(b) {
  const vertical = !b.horizontal;
  const valueAxis = {
    type: 'value', min: b.min, max: b.max, position: vertical ? 'right' : 'bottom',
    axisLine: noLine, splitLine: { show: false },
    axisTick: { customValues: b.ticks, show: vertical, inside: true, length: 3, lineStyle: { color: '#fff', width: 0.8 } },
    axisLabel: { customValues: b.ticks, fontSize: b.fontSize, color: b.labelColor || ink, margin: b.margin, formatter: b.formatter }
  };
  const g = vertical
    ? addGrid({ left: b.left, top: b.top, width: b.width, height: b.height }, hidden(0, 1), valueAxis)
    : addGrid({ left: b.left, top: b.top, width: b.width, height: b.height, show: true, borderColor: '#000', borderWidth: 1.4 }, valueAxis, hidden(0, 1));
  const fill = new echarts.graphic.LinearGradient(0, vertical ? 1 : 0, vertical ? 0 : 1, 0, b.stops);
  customOn(g, [[b.min, b.max]], (p, api) => {
    const a = vertical ? api.coord([0, api.value(1)]) : api.coord([api.value(0), 1]);
    const e = vertical ? api.coord([1, api.value(0)]) : api.coord([api.value(1), 0]);
    return { type: 'rect', shape: { x: a[0], y: a[1], width: e[0] - a[0], height: e[1] - a[1] }, style: { fill } };
  });
}

// ---------- panel A ----------
const histGrid = addGrid(
  { left: 72.7, top: 60.7, width: 163.8, height: 129.3, show: true, borderColor: '#000', borderWidth: 1.2 },
  {
    type: 'value', min: -4.77, max: 4.85, axisLine: noLine, splitLine: { show: false },
    axisTick: { customValues: [-4, -2, 0, 2, 4], length: 9, lineStyle: { color: '#000', width: 1.2 } },
    axisLabel: { customValues: [-4, -2, 0, 2, 4], fontSize: 14, color: ink, margin: 19 },
    name: 'Row Z-Score', nameLocation: 'middle', nameGap: 42, nameTextStyle: { fontSize: 14, color: ink }
  },
  {
    type: 'value', min: 0, max: 21250, axisLine: noLine, splitLine: { show: false },
    axisTick: { customValues: [0, 5000, 10000, 15000, 20000], length: 9, lineStyle: { color: '#000', width: 1.2 } },
    axisLabel: { customValues: [0, 10000, 20000], fontSize: 13.5, color: ink, margin: 19, rotate: 90, formatter: v => String(v) }
  }
);
customOn(histGrid, [[0.1, 4.85]], (p, api) => {
  const a = api.coord([api.value(0), 21250]), b = api.coord([api.value(1), 0]);
  return { type: 'rect', shape: { x: a[0], y: a[1], width: b[0] - a[0], height: b[1] - a[1] }, style: { fill: new echarts.graphic.LinearGradient(0, 0, 1, 0, [{ offset: 0, color: '#fff' }, { offset: 1, color: '#000' }]) } };
}, 1);
series.push({ type: 'line', xAxisIndex: histGrid, yAxisIndex: histGrid, data: histX.map((x, i) => [x, histY[i]]), showSymbol: false, lineStyle: { color: '#00ffff', width: 1.6 }, silent: true, z: 3 });
addText('Color Key', 153, 34, 'bold 17px');
addText('and Histogram', 153, 55, 'bold 17px');
addText('Count', 35, 126, '9px', { rotation: Math.PI / 2 });

const colTreeGrid = addGrid({ left: 274, top: 29.3, width: 475, height: 214.7 }, hidden(-0.5, 24.5), hidden(0, 644));
customOn(colTreeGrid, columnTree, (p, api) => {
  const [l, r, dl, dr, h] = [0, 1, 2, 3, 4].map(i => api.value(i));
  return { type: 'polyline', shape: { points: [[l, dl], [l, h], [r, h], [r, dr]].map(d => api.coord(d)) }, style: { stroke: '#000', fill: null, lineWidth: 1.3 } };
});

const rowTreeGrid = addGrid({ left: 50.9, top: 252.3, width: 215.2, height: 475 }, hidden(105, 549), hidden(757, 2182, { inverse: true }));
rowFill(rowTreeGrid, rowFillGrey1, '#b3b3b3', 549);
rowFill(rowTreeGrid, rowFillTeal, '#66cdaa', 549);
rowFill(rowTreeGrid, rowFillGold, '#ffb90f', 549);
rowFill(rowTreeGrid, rowFillGrey2, '#b3b3b3', 549);
rowFill(rowTreeGrid, rowFillRed, '#ee4000', 549);
rowFill(rowTreeGrid, rowFillGrey3, '#b3b3b3', 549);
rowTree(rowTreeGrid, rowTreeGrey, '#b3b3b3');
rowTree(rowTreeGrid, rowTreeTeal, '#66cdaa');
rowTree(rowTreeGrid, rowTreeGold, '#ffb90f');
rowTree(rowTreeGrid, rowTreeRed, '#ee4000');
rowTree(rowTreeGrid, rowTreeBlack, '#000');

const heatGrid = addGrid({ left: 274, top: 252.3, width: 475, height: 475 }, { type: 'category', data: tissues, show: false }, hidden(757, 2182, { inverse: true }));
const faintRows = tissueFaint.map(d => [d[0], d[1], d[1] + 3, d[2]]);
bands(heatGrid, faintRows.concat(tissueBands, tissueInner), v => mix('#ffffff', '#000000', v));

const tissueColor = { 'Embryonic Heart': '#ee4000', Brain: '#66cdaa', Spleen: '#ffb90f' };
addGrid({ left: 269.3, top: 726, width: 475, height: 1 },
  { type: 'category', data: tissues, axisLine: { show: false }, axisTick: { show: false }, axisLabel: { interval: 0, rotate: 90, fontSize: 15.5, margin: 15, color: v => tissueColor[v] || ink } },
  hidden(0, 1));

// ---------- panel B ----------
function goPlot(p) {
  const rows = p.terms.map((t, i) => i);
  const g = addGrid(
    { left: p.left, top: p.top, width: p.width, height: p.height, show: true, backgroundColor: '#ebebeb', borderWidth: 0 },
    {
      type: 'value', min: p.xMin, max: p.xMax, axisLine: noLine,
      axisTick: { customValues: p.xTicks, length: 2, lineStyle: { color: '#222', width: 1.5 } },
      axisLabel: { customValues: p.xTicks, fontSize: 6.5, color: '#4d4d4d', margin: 3, formatter: p.xFormat },
      splitLine: { show: true, lineStyle: { color: '#fff', width: 1.4 } },
      name: '-log10(padj)', nameLocation: 'middle', nameGap: 12, nameTextStyle: { fontSize: 7.5, color: '#222' }
    },
    {
      type: 'value', inverse: true, min: -0.6, max: rows.length - 0.4, axisLine: noLine,
      axisTick: { customValues: rows, length: 2, lineStyle: { color: '#222', width: 1.5 } },
      axisLabel: { customValues: rows, fontSize: 11.8, color: '#555', margin: 12, formatter: v => p.terms[v] },
      splitLine: { show: true, lineStyle: { color: '#fff', width: 1.4 } }
    }
  );
  customOn(g, p.xMinor.map(v => [v]), (q, api) => {
    const a = api.coord([api.value(0), -0.6]), b = api.coord([api.value(0), rows.length - 0.4]);
    return { type: 'line', shape: { x1: a[0], y1: a[1], x2: b[0], y2: b[1] }, style: { stroke: '#fff', lineWidth: 0.8 } };
  }, 1);
  series.push({
    type: 'scatter', xAxisIndex: g, yAxisIndex: g, silent: true, z: 5,
    symbolSize: v => p.size0 + v[2] * p.sizeK,
    itemStyle: { borderColor: '#000', borderWidth: 1.8, opacity: 1 },
    data: p.terms.map((t, i) => ({
      name: t, value: [p.x[i], i, p.count[i], p.es[i]],
      itemStyle: { color: mix(p.colorLow, p.colorHigh, (p.es[i] - p.esMin) / (p.esMax - p.esMin)) }
    }))
  });
  colorBar({
    left: p.bar.left, top: p.bar.top, width: 11, height: p.bar.height, min: p.esMin, max: p.esMax, ticks: p.bar.ticks,
    stops: [{ offset: 0, color: p.colorLow }, { offset: 1, color: p.colorHigh }], fontSize: 6.5, labelColor: '#333', margin: 3, formatter: p.bar.format
  });
  addText('ES', p.bar.left, p.bar.titleY, '7.5px', { align: 'left', fill: '#333' });
  addText('Count', p.bar.left, p.legend.titleY, '7.5px', { align: 'left', fill: '#333' });
  p.legend.counts.forEach((c, i) => {
    const cy = p.legend.y[i];
    graphic.push({ type: 'circle', z: 100, silent: true, shape: { cx: p.legend.x, cy, r: (p.size0 + c * p.sizeK) / 2 }, style: { fill: '#f2f2f2', stroke: '#000', lineWidth: 1.8 } });
    addText(String(c), p.legend.x + 9, cy, '6.5px', { align: 'left', fill: '#333' });
  });
}
goPlot({
  terms: goTealTerms, x: goTealX, count: goTealCount, es: goTealES,
  left: 1008, top: 40, width: 211, height: 241.7, xMin: 0.47, xMax: 87.2, xTicks: [20, 40, 60, 80], xMinor: [10, 30, 50, 70],
  size0: 3.4, sizeK: 1 / 40, esMin: 10.46, esMax: 15.8, colorLow: '#dcf5ea', colorHigh: '#66cdaa',
  bar: { left: 1228.8, top: 106.7, height: 52.6, ticks: [11, 12, 13, 14, 15], titleY: 100 },
  legend: { titleY: 176, x: 1234.3, counts: [50, 100, 150, 200], y: [187.7, 198.3, 209, 219.3] }
});
goPlot({
  terms: goGoldTerms, x: goGoldX, count: goGoldCount, es: goGoldES,
  left: 1030, top: 317.7, width: 188.6, height: 242.3, xMin: 11.36, xMax: 35.05, xTicks: [15, 20, 25, 30, 35], xMinor: [12.5, 17.5, 22.5, 27.5, 32.5],
  size0: 1.9, sizeK: 0.06, esMin: 5.94, esMax: 8.83, colorLow: '#ffe9b8', colorHigh: '#ffb90f',
  bar: { left: 1228.8, top: 455.7, height: 52, ticks: [7, 8], titleY: 449 },
  legend: { titleY: 372.7, x: 1234.3, counts: [30, 50, 70, 90, 110], y: [384.7, 395, 405.7, 416.3, 427] }
});
goPlot({
  terms: goRedTerms, x: goRedX, count: goRedCount, es: goRedES,
  left: 1006.4, top: 596, width: 214.2, height: 241.7, xMin: 5.29, xMax: 16.04, xTicks: [7.5, 10, 12.5, 15], xMinor: [6.25, 8.75, 11.25, 13.75], xFormat: v => v.toFixed(1),
  size0: 2.7, sizeK: 0.07, esMin: 1.96, esMax: 3.88, colorLow: '#e68a6a', colorHigh: '#ee4000',
  bar: { left: 1230.5, top: 668.3, height: 52.4, ticks: [2, 2.5, 3, 3.5], format: v => v.toFixed(1), titleY: 661.7 },
  legend: { titleY: 737.7, x: 1236.3, counts: [25, 50, 75], y: [749.7, 760, 770.7] }
});
function box(x, y, w, h, color) {
  graphic.push({ type: 'rect', z: 90, silent: true, shape: { x, y, width: w, height: h }, style: { fill: null, stroke: color, lineWidth: 2 } });
}
function link(x1, y1, x2, y2, color) {
  graphic.push({ type: 'line', z: 90, silent: true, shape: { x1, y1, x2, y2 }, style: { stroke: color, lineWidth: 1.6 } });
}
box(778, 34.3, 486, 263.4, '#66cdaa');
box(778, 314.3, 486, 263, '#ffb90f');
box(778, 594.3, 486, 262.4, '#ee4000');
link(778, 34.3, 753, 307, '#66cdaa');
link(778, 297.7, 753, 362, '#66cdaa');
link(778, 314.3, 752.5, 369, '#ffb90f');
link(778, 577.3, 752.5, 404.3, '#ffb90f');
link(778, 594.3, 748.8, 550.7, '#ee4000');
link(778, 856.7, 748.8, 570.7, '#ee4000');
addText('Gene Ontology Enrichments', 1020.5, 16, '16.5px Noto Sans,');

// ---------- panel C ----------
const stageTreeGrid = addGrid({ left: 35.5, top: 872.2, width: 321.6, height: 485.3 }, hidden(87, 875), hidden(32, 1300, { inverse: true }));
rowFill(stageTreeGrid, stageFillBlue, '#0000ff', 875);
rowFill(stageTreeGrid, stageFillGreen, '#00ff00', 875);
rowFill(stageTreeGrid, stageFillPink, '#ff1493', 875);
rowFill(stageTreeGrid, stageFillPurple, '#68228b', 875);
rowTree(stageTreeGrid, stageTreeBlue, '#0000ff');
rowTree(stageTreeGrid, stageTreeGreen, '#00ff00');
rowTree(stageTreeGrid, stageTreePink, '#ff1493');
rowTree(stageTreeGrid, stageTreePurple, '#68228b');
rowTree(stageTreeGrid, stageTreeBlack, '#222');

const stageHeatGrid = addGrid({ left: 369.4, top: 872.2, width: 848.2, height: 485.3 }, { type: 'category', data: stages, show: false }, hidden(32, 1300, { inverse: true }));
const stageCells = [];
stageRuns.forEach((runs, c) => {
  let from = 32;
  runs.forEach(r => { stageCells.push([c, from, r[0], r[1]]); from = r[0]; });
});
// a thin row sits at about half the z-score of the run around it
stageThinRows.forEach((rows, c) => {
  rows.forEach(r => {
    const run = stageRuns[c].find(d => d[0] >= r);
    stageCells.push([c, r, r + 2.6, run[1] * 0.5]);
  });
});
bands(stageHeatGrid, stageCells, z => z < 0 ? mix('#000000', '#0000ff', -z / 3) : mix('#000000', '#ffff00', z / 3));
addGrid({ left: 363.9, top: 1356.5, width: 848.2, height: 1 },
  { type: 'category', data: stages, axisLine: { show: false }, axisTick: { show: false }, axisLabel: { interval: 0, rotate: 90, fontSize: 14, margin: 5, color: '#111' } },
  hidden(0, 1));
colorBar({
  horizontal: true, left: 40.8, top: 1371, width: 166.5, height: 49, min: -3.16, max: 3.16, ticks: [-3, -2, -1, 0, 1, 2, 3],
  stops: [{ offset: 0, color: '#0000ff' }, { offset: 0.5, color: '#000000' }, { offset: 1, color: '#ffff00' }], fontSize: 6.5, labelColor: '#333', margin: 5
});
addText('Z-Score', 124.5, 1440.5, '17px');

// ---------- panel D ----------
function mapPlot(p) {
  const g = addGrid(
    { left: p.left, top: 1476.7, width: p.width, height: 411, show: true, borderColor: '#b3b3b3', borderWidth: 2 },
    {
      type: 'value', min: p.xMin, max: p.xMax, axisLine: noLine,
      axisTick: { show: false, customValues: p.xGrid },
      axisLabel: { customValues: p.xTicks, fontSize: 7, color: '#555', margin: 4, formatter: v => v.toFixed(1) },
      splitLine: { show: true, lineStyle: { color: '#f1f1f1', width: 1 } }
    },
    {
      type: 'value', min: p.yMin, max: p.yMax, axisLine: noLine,
      axisTick: { show: false, customValues: p.yGrid },
      axisLabel: { customValues: p.yTicks, fontSize: 7, color: '#555', margin: 4 },
      splitLine: { show: true, lineStyle: { color: '#f1f1f1', width: 1 } }
    }
  );
  series.push({
    type: 'graph', coordinateSystem: 'cartesian2d', layout: 'none', xAxisIndex: g, yAxisIndex: g, silent: true, z: 3,
    label: { show: false }, lineStyle: { color: '#b8b8b8', opacity: 1, curveness: 0 },
    itemStyle: { borderColor: '#333', borderWidth: 0.8 },
    data: p.terms.map((t, i) => ({
      name: t, value: [p.x[i], p.y[i]], symbolSize: 4.5 * Math.sqrt(p.count[i]),
      itemStyle: { color: mix(p.colorLow, p.colorHigh, (p.val[i] - p.valMin) / (p.valMax - p.valMin)) }
    })),
    links: p.edges.map(e => ({ source: e[0], target: e[1], lineStyle: { width: e[2] } }))
  });
  if (p.leaders) {
    customOn(g, p.leaders, (q, api) => {
      const a = api.coord([api.value(0), api.value(1)]), b = api.coord([api.value(2), api.value(3)]);
      return { type: 'line', shape: { x1: a[0], y1: a[1], x2: b[0], y2: b[1] }, style: { stroke: '#000', lineWidth: 0.9 } };
    }, 6);
  }
  series.push({
    type: 'scatter', xAxisIndex: g, yAxisIndex: g, silent: true, z: 8, symbolSize: 1, itemStyle: { color: 'transparent' },
    label: { show: true, position: 'inside', formatter: '{b}', fontSize: 10, color: '#000' },
    data: p.terms.map((t, i) => ({ name: t, value: p.labelAt[i] }))
  });
  colorBar({
    left: p.bar.left, top: p.bar.top, width: p.bar.width, height: p.bar.height, min: p.valMin, max: p.valMax, ticks: p.bar.ticks,
    stops: [{ offset: 0, color: p.colorLow }, { offset: 1, color: p.colorHigh }], fontSize: 10.5, margin: 6
  });
  addText('-log2(pval)', p.bar.titleX, 1878, '17px', { align: 'left' });
  addText('OvR 1', p.axisNameX, 1912.7, '19px');
}
// the sterol group is fully linked, every pair has an edge
const sterolEdges = [];
for (let i = 0; i < 18; i++) for (let j = i + 1; j < 18; j++) sterolEdges.push([i, j, 2]);

mapPlot({
  terms: mapLeftTerms, x: mapLeftX, y: mapLeftY, count: mapLeftCount, val: mapLeftVal, edges: sterolEdges.concat(mapLeftEdges), labelAt: mapLeftLabelAt, leaders: mapLeftLeaders,
  left: 47.8, width: 591, xMin: -2.705, xMax: 4.78, yMin: -1.126, yMax: 2.95,
  xTicks: [-2.5, 0, 2.5], xGrid: [-2.5, -1.25, 0, 1.25, 2.5, 3.75], yTicks: [-1, 0, 1, 2], yGrid: [-1, -0.5, 0, 0.5, 1, 1.5, 2, 2.5],
  valMin: 19.4, valMax: 44.9, colorLow: '#ffc8ff', colorHigh: '#a020f0',
  bar: { left: 71.4, top: 1772.7, width: 18.4, height: 92.3, ticks: [20, 25, 30, 35, 40], titleX: 53 }, axisNameX: 343
});
mapPlot({
  terms: mapRightTerms, x: mapRightX, y: mapRightY, count: mapRightCount, val: mapRightVal, edges: mapRightEdges, labelAt: mapRightLabelAt,
  left: 666.3, width: 590.7, xMin: 12.66, xMax: 21.94, yMin: 2.18, yMax: 11.21,
  xTicks: [15, 17.5, 20], xGrid: [13.75, 15, 16.25, 17.5, 18.75, 20, 21.25], yTicks: [4, 6, 8, 10], yGrid: [3, 4, 5, 6, 7, 8, 9, 10, 11],
  valMin: 8.93, valMax: 29.9, colorLow: '#63b8f5', colorHigh: '#0000ff',
  bar: { left: 691.4, top: 1771.7, width: 18.6, height: 92.3, ticks: [10, 15, 20, 25], titleX: 675 }, axisNameX: 962
});
addText('OvR 2', 26.5, 1681.7, '19px', { rotation: Math.PI / 2 });
addText('5167 GINI Genes', 11, 465, '26px', { rotation: Math.PI / 2 });

// size key of the left map
[[69.4, 1489, 10.2, '20', 1489], [69.8, 1522.7, 16, '40', 1523], [70.2, 1565.7, 17.5, '60', 1565]].forEach(k => {
  graphic.push({ type: 'circle', z: 95, silent: true, shape: { cx: k[0], cy: k[1], r: k[2] }, style: { fill: '#fff', stroke: '#222', lineWidth: 1 } });
  addText(k[3], 90, k[4], '17px', { align: 'left' });
});

addText('A.', 5, 17, 'bold 36px Open Sans,', { align: 'left', fill: '#231f20' });
addText('B.', 732, 15, 'bold 36px Open Sans,', { align: 'left', fill: '#231f20' });
addText('C.', 6, 874, 'bold 36px Open Sans,', { align: 'left', fill: '#231f20' });
addText('D.', 6, 1485, 'bold 36px Open Sans,', { align: 'left', fill: '#231f20' });

const myChart = echarts.init(document.getElementById('main'), null, { renderer: 'canvas' });
myChart.setOption({
  animation: false,
  backgroundColor: '#fff',
  textStyle: { fontFamily: fontName },
  grid: grids, xAxis: xAxes, yAxis: yAxes, series, graphic: { elements: graphic }
});
</script>
</body>
</html>
